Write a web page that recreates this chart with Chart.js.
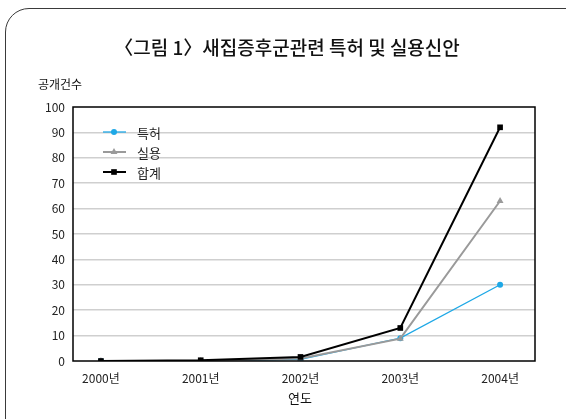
<!DOCTYPE html>
<html>
<head>
<meta charset="utf-8">
<script src="https://cdn.jsdelivr.net/npm/chart.js@4"></script>
<style>
    html, body { margin: 0; padding: 0; background: #fff; overflow: hidden; }
    #wrap { position: relative; width: 566px; height: 419px; }
    #frame {
        position: absolute; left: 5px; top: 8px; width: 590px; height: 440px;
        border: 1.5px solid #3a3a3a; border-radius: 24px; box-sizing: border-box;
    }
    canvas { position: absolute; left: 0; top: 0; }
</style>
</head>
<body>
<div id="wrap">
    <div id="frame"></div>
    <canvas id="chart" width="566" height="419"></canvas>
</div>
<script>
// Data
const years = ["2000년", "2001년", "2002년", "2003년", "2004년"];
const patent = [0, 0, 0.6, 9, 30];      // 특허
const utility = [0, 0, 1, 8.8, 63];     // 실용
const total = [0, 0.3, 1.6, 13, 92];    // 합계
const yTicks = [0, 10, 20, 30, 40, 50, 60, 70, 80, 90, 100];

const FONT = "'Noto Sans CJK KR', 'Noto Sans', sans-serif";

// turn a series into {x, y} points for the linear x axis
function toPoints(values) {
    return values.map((v, i) => ({ x: i, y: v }));
}

// Draws title, axis captions, plot frame and the inner legend
const decorations = {
    id: "decorations",
    afterDatasetsDraw(chart) {
        const ctx = chart.ctx;
        const area = chart.chartArea;
        ctx.save();

        // plot frame
        ctx.strokeStyle = "#000";
        ctx.lineWidth = 1.5;
        ctx.strokeRect(area.left, area.top, area.right - area.left, area.bottom - area.top);

        // title
        ctx.fillStyle = "#111";
        ctx.textAlign = "center";
        ctx.textBaseline = "middle";
        ctx.font = "500 19px " + FONT;
        ctx.fillText("〈그림 1〉새집증후군관련 특허 및 실용신안", 287, 48);

        // axis captions
        ctx.font = "12px " + FONT;
        ctx.textAlign = "left";
        ctx.fillText("공개건수", 38, 84);
        ctx.textAlign = "center";
        ctx.font = "13px " + FONT;
        ctx.fillText("연도", 300, 398);

        // legend inside the plot
        const rows = [132, 152, 172];
        chart.data.datasets.forEach((ds, i) => {
            const y = rows[i];
            ctx.strokeStyle = ds.borderColor;
            ctx.fillStyle = ds.backgroundColor;
            ctx.lineWidth = ds.borderWidth;
            ctx.beginPath();
            ctx.moveTo(103, y);
            ctx.lineTo(126, y);
            ctx.stroke();
            Chart.helpers.drawPoint(ctx, {
                pointStyle: ds.pointStyle,
                radius: ds.pointRadius,
                rotation: 0,
                borderWidth: 0
            }, 114, y);
            ctx.fillStyle = "#222";
            ctx.font = "13px " + FONT;
            ctx.textAlign = "left";
            ctx.fillText(ds.label, 137, y + 1);
        });
        ctx.restore();
    }
};

const chart = new Chart(document.getElementById("chart"), {
    type: "line",
    data: {
        datasets: [
            {
                label: "특허",
                data: toPoints(patent),
                borderColor: "#1ea8e6",
                backgroundColor: "#1ea8e6",
                borderWidth: 1.3,
                pointStyle: "circle",
                pointRadius: 3,
                pointBorderWidth: 0,
                order: 2
            },
            {
                label: "실용",
                data: toPoints(utility),
                borderColor: "#9a9a9a",
                backgroundColor: "#9a9a9a",
                borderWidth: 2,
                pointStyle: "triangle",
                pointRadius: 4,
                pointBorderWidth: 0,
                order: 1
            },
            {
                label: "합계",
                data: toPoints(total),
                borderColor: "#000",
                backgroundColor: "#000",
                borderWidth: 2,
                pointStyle: "rect",
                pointRadius: 4,
                pointBorderWidth: 0,
                order: 0
            }
        ]
    },
    options: {
        responsive: false,
        animation: false,
        layout: { padding: { left: 0, top: 107, right: 31, bottom: 0 } },
        plugins: {
            legend: { display: false },
            title: { display: false },
            tooltip: { enabled: false }
        },
        scales: {
            x: {
                type: "linear",
                min: -0.28,
                max: 4.35,
                afterBuildTicks: (scale) => {
                    scale.ticks = years.map((_, i) => ({ value: i }));
                },
                afterFit: (scale) => { scale.height = 58; },
                grid: { display: false },
                border: { display: false },
                ticks: {
                    color: "#222",
                    font: { family: FONT, size: 12 },
                    padding: 2,
                    maxRotation: 0,
                    callback: (v) => years[v]
                }
            },
            y: {
                min: 0,
                max: 100,
                afterBuildTicks: (scale) => {
                    scale.ticks = yTicks.map((v) => ({ value: v }));
                },
                afterFit: (scale) => { scale.width = 73; },
                grid: {
                    drawTicks: false,
                    lineWidth: 1.5,
                    color: (c) => (c.tick.value === 0 || c.tick.value === 100) ? "rgba(0,0,0,0)" : "#cfcfcf"
                },
                border: { display: false },
                ticks: {
                    color: "#222",
                    font: { family: FONT, size: 12 },
                    padding: 8
                }
            }
        }
    },
    plugins: [decorations]
});
</script>
</body>
</html>
